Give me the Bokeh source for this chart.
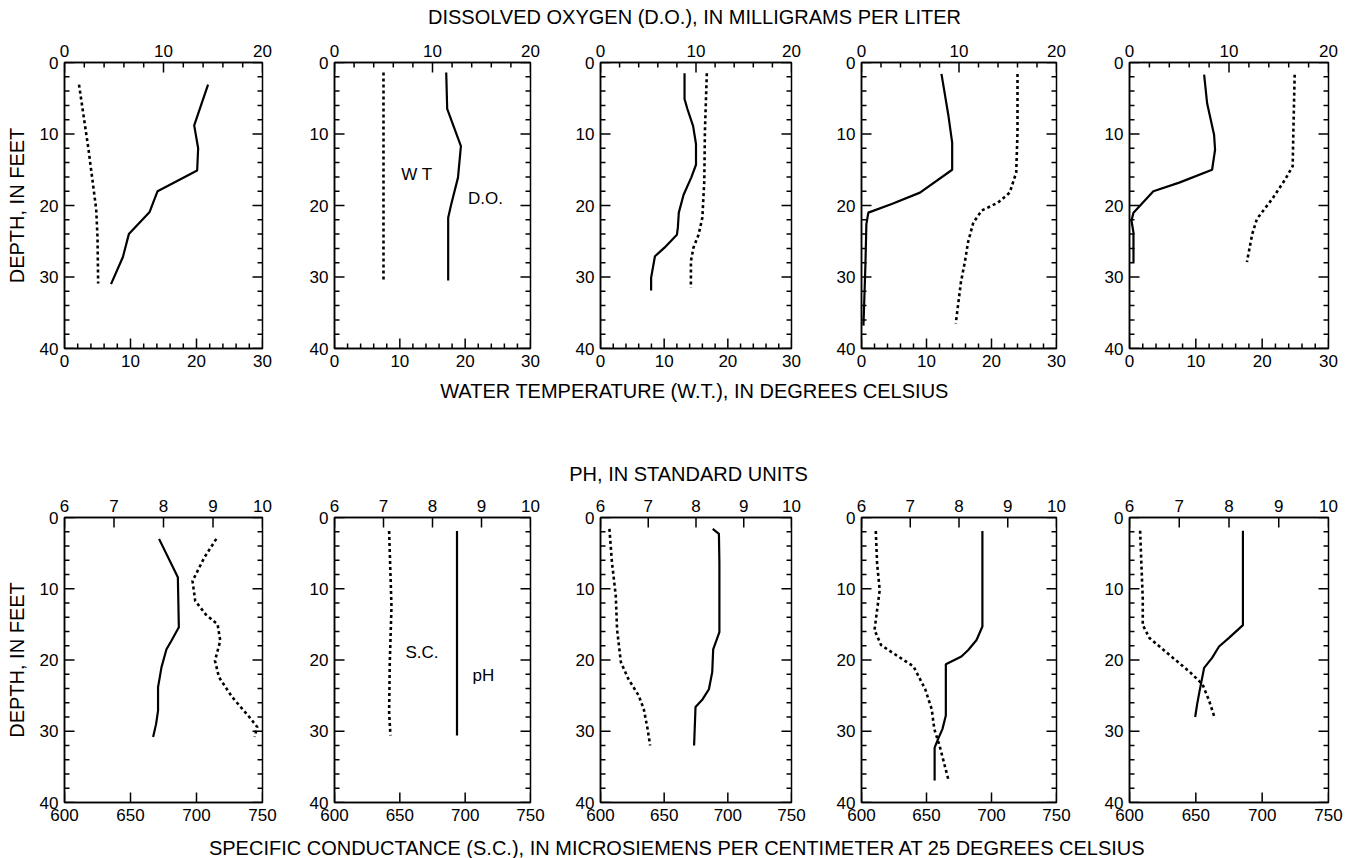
import numpy as np
from bokeh.plotting import figure
from bokeh.models import Range1d, LinearAxis, SingleIntervalTicker, Label
from bokeh.layouts import column, row
from bokeh.embed import file_html
from bokeh.resources import INLINE
from bokeh.core.validation import silence
from bokeh.core.validation.warnings import MISSING_RENDERERS

silence(MISSING_RENDERERS, True)

FONT = "Liberation Sans"

# ---------------- Titles ----------------
title_do = "DISSOLVED OXYGEN (D.O.), IN MILLIGRAMS PER LITER"
title_wt = "WATER TEMPERATURE (W.T.), IN DEGREES CELSIUS"
title_ph = "PH, IN STANDARD UNITS"
title_sc = "SPECIFIC CONDUCTANCE (S.C.), IN MICROSIEMENS PER CENTIMETER AT 25 DEGREES CELSIUS"
depth_label = "DEPTH, IN FEET"

# ---------------- Axis ranges / tick spacing ----------------
depth_range = (40, 0)
depth_major, depth_minor = 10, 2
do_range, do_major, do_minor = (0, 20), 10, 2
wt_range, wt_major, wt_minor = (0, 30), 10, 2
ph_range, ph_major = (6, 10), 1
sc_range, sc_major = (600, 750), 50

# ---------------- Top row: D.O. (top axis, mg/L) and W.T. (bottom axis, deg C) ----------------
do_depth_1 = [3.1, 8.8, 12.0, 15.1, 18.0, 20.9, 24.0, 27.2, 31.0]
do_1 = [14.5, 13.1, 13.5, 13.4, 9.4, 8.6, 6.5, 5.9, 4.7]
wt_depth_1 = [3.1, 11.9, 20.5, 24.4, 30.9]
wt_1 = [2.2, 3.6, 4.8, 5.0, 5.1]

do_depth_2 = [1.4, 6.5, 11.7, 16.1, 19.9, 21.7, 30.5]
do_2 = [11.4, 11.5, 12.9, 12.6, 11.9, 11.6, 11.6]
wt_depth_2 = [1.4, 15.0, 30.6]
wt_2 = [7.5, 7.5, 7.5]

do_depth_3 = [1.5, 5.1, 6.5, 8.9, 11.4, 14.3, 16.1, 18.5, 21.0, 23.1, 24.1, 25.9, 27.1, 30.1, 31.9]
do_3 = [8.8, 8.8, 9.1, 9.7, 10.0, 10.0, 9.5, 8.7, 8.2, 8.1, 8.0, 6.7, 5.7, 5.3, 5.3]
wt_depth_3 = [1.5, 9.6, 16.6, 21.7, 24.1, 25.9, 27.8, 31.5]
wt_3 = [16.7, 16.4, 16.3, 16.0, 15.4, 14.6, 14.2, 14.2]

do_depth_4 = [1.6, 7.3, 11.2, 15.0, 18.2, 19.8, 21.0, 22.6, 28.4, 36.8]
do_4 = [8.2, 8.9, 9.3, 9.3, 6.0, 3.1, 0.7, 0.5, 0.4, 0.2]
wt_depth_4 = [1.6, 9.8, 15.4, 18.2, 19.6, 20.7, 22.4, 25.1, 27.9, 30.7, 36.5]
wt_4 = [24.0, 24.0, 23.8, 22.8, 21.0, 18.5, 17.2, 16.4, 15.9, 15.3, 14.5]

do_depth_5 = [1.7, 5.7, 10.1, 12.2, 15.0, 16.8, 18.0, 21.0, 22.1, 23.8, 27.9]
do_5 = [7.5, 7.8, 8.5, 8.6, 8.3, 5.0, 2.4, 0.4, 0.2, 0.4, 0.4]
wt_depth_5 = [1.7, 9.8, 14.5, 16.3, 19.1, 21.9, 24.0, 27.9]
wt_5 = [24.9, 24.7, 24.6, 23.5, 21.5, 19.2, 18.5, 17.7]

# ---------------- Bottom row: pH (top axis) and S.C. (bottom axis) ----------------
ph_depth_1 = [3.0, 8.4, 15.4, 17.3, 18.5, 21.0, 23.8, 27.1, 29.0, 30.8]
ph_1 = [7.91, 8.29, 8.31, 8.16, 8.06, 7.96, 7.89, 7.89, 7.85, 7.79]
sc_depth_1 = [3.0, 5.6, 8.9, 11.7, 13.6, 15.0, 17.3, 20.1, 22.4, 25.2, 28.0, 29.4, 30.8]
sc_1 = [715, 706, 697, 699, 707, 716, 718, 714, 717, 727, 740, 746, 744]

ph_depth_2 = [1.9, 30.6]
ph_2 = [8.5, 8.5]
sc_depth_2 = [1.9, 12.5, 20.4, 27.3, 30.6]
sc_2 = [641.8, 643.6, 642.3, 641.8, 642.8]

ph_depth_3 = [1.6, 2.3, 6.3, 16.1, 18.5, 21.7, 24.1, 25.5, 26.6, 32.0]
ph_3 = [8.35, 8.48, 8.49, 8.49, 8.36, 8.34, 8.27, 8.14, 7.99, 7.96]
sc_depth_3 = [1.6, 6.3, 11.0, 15.7, 20.3, 22.7, 25.0, 26.9, 29.7, 32.0]
sc_3 = [607, 609, 612, 613, 616, 622, 630, 634, 637, 639]

ph_depth_4 = [1.9, 15.3, 17.2, 18.6, 19.5, 20.6, 27.8, 29.7, 31.1, 32.3, 36.9]
ph_4 = [8.48, 8.48, 8.36, 8.19, 8.05, 7.73, 7.73, 7.66, 7.57, 7.5, 7.5]
sc_depth_4 = [1.9, 6.5, 10.2, 13.0, 15.8, 17.9, 19.0, 20.9, 24.1, 26.9, 29.7, 32.0, 36.9]
sc_4 = [611, 612, 614, 612, 610, 615, 624, 640, 649, 654, 656, 660, 667]

ph_depth_5 = [1.85, 15.1, 16.9, 18.1, 19.7, 21.1, 24.3, 26.2, 28.0]
ph_5 = [8.28, 8.28, 8.0, 7.8, 7.66, 7.5, 7.41, 7.36, 7.32]
sc_depth_5 = [1.85, 6.7, 11.4, 15.1, 16.9, 18.8, 21.6, 23.4, 25.7, 28.0]
sc_5 = [608, 609, 610, 610, 615, 627, 645, 655, 660, 664]

top_series = [(do_depth_1, do_1, wt_depth_1, wt_1), (do_depth_2, do_2, wt_depth_2, wt_2),
              (do_depth_3, do_3, wt_depth_3, wt_3), (do_depth_4, do_4, wt_depth_4, wt_4),
              (do_depth_5, do_5, wt_depth_5, wt_5)]
bot_series = [(ph_depth_1, ph_1, sc_depth_1, sc_1), (ph_depth_2, ph_2, sc_depth_2, sc_2),
              (ph_depth_3, ph_3, sc_depth_3, sc_3), (ph_depth_4, ph_4, sc_depth_4, sc_4),
              (ph_depth_5, ph_5, sc_depth_5, sc_5)]

# ---------------- layout geometry (pixels) ----------------
fig_widths = [300, 266, 262, 266, 260]
border_left = [64, 34, 34, 33, 35]
border_right = [38, 36, 37, 38, 26]
MAJOR_LEN = 20   # marker size -> half of it shows inside the frame
MINOR_LEN = 10


def steps(lo, hi, step):
    a, b = min(lo, hi), max(lo, hi)
    return list(np.arange(a, b + step * 0.001, step))


def style_axis(ax, interval, show_labels=True):
    ax.ticker = SingleIntervalTicker(interval=interval, num_minor_ticks=0)
    ax.major_tick_in = 0
    ax.major_tick_out = 0
    ax.minor_tick_in = 0
    ax.minor_tick_out = 0
    ax.axis_line_color = "black"
    ax.axis_line_width = 1.5
    ax.major_label_text_font = FONT
    ax.major_label_text_color = "black"
    ax.major_label_standoff = 6
    if show_labels:
        ax.major_label_text_font_size = "17px"
    else:
        ax.major_label_text_font_size = "1px"
        ax.major_label_text_alpha = 0


def inward_ticks(p, positions, fixed, vertical, size, range_name=None):
    """Tick marks drawn as dash markers centred on the frame edge (outer half is clipped)."""
    if vertical:
        xs, ys, ang = positions, [fixed] * len(positions), np.pi / 2
    else:
        xs, ys, ang = [fixed] * len(positions), positions, 0.0
    kw = {}
    if range_name:
        kw["x_range_name"] = range_name
    p.scatter(x=xs, y=ys, marker="dash", size=size, angle=ang,
              line_color="black", line_width=1.5, **kw)


def make_panel(i, height, b_top, b_bottom, main_rng, main_int, main_minor,
               top_rng, top_int, top_minor, depth_ser, top_vals, main_depth, main_vals):
    p = figure(width=fig_widths[i], height=height,
               x_range=Range1d(*main_rng), y_range=Range1d(*depth_range),
               output_backend="svg", toolbar_location=None,
               min_border_left=border_left[i], min_border_right=border_right[i],
               min_border_top=b_top, min_border_bottom=b_bottom)
    p.extra_x_ranges = {"top": Range1d(*top_rng)}
    p.xgrid.visible = False
    p.ygrid.visible = False
    p.outline_line_color = "black"
    p.outline_line_width = 1.5
    p.background_fill_color = "white"
    p.border_fill_color = "white"

    style_axis(p.xaxis[0], main_int)
    style_axis(p.yaxis[0], depth_major)
    top_ax = LinearAxis(x_range_name="top")
    style_axis(top_ax, top_int)
    p.add_layout(top_ax, "above")

    if i == 0:
        p.yaxis[0].axis_label = depth_label
        p.yaxis[0].axis_label_text_font = FONT
        p.yaxis[0].axis_label_text_font_size = "20px"
        p.yaxis[0].axis_label_text_font_style = "normal"
        p.yaxis[0].axis_label_text_color = "black"
        p.yaxis[0].axis_label_standoff = 9

    # inward ticks: depth on left and right edges
    d_major = steps(*depth_range, depth_major)
    d_minor = [d for d in steps(*depth_range, depth_minor) if d not in d_major]
    for edge in main_rng:
        inward_ticks(p, d_major, edge, False, MAJOR_LEN)
        inward_ticks(p, d_minor, edge, False, MINOR_LEN)
    # bottom edge (main range)
    m_major = steps(*main_rng, main_int)
    inward_ticks(p, m_major, depth_range[0], True, MAJOR_LEN)
    if main_minor:
        m_minor = [v for v in steps(*main_rng, main_minor) if v not in m_major]
        inward_ticks(p, m_minor, depth_range[0], True, MINOR_LEN)
    # top edge (top range)
    t_major = steps(*top_rng, top_int)
    inward_ticks(p, t_major, depth_range[1], True, MAJOR_LEN, "top")
    if top_minor:
        t_minor = [v for v in steps(*top_rng, top_minor) if v not in t_major]
        inward_ticks(p, t_minor, depth_range[1], True, MINOR_LEN, "top")

    # dotted series on bottom axis
    p.line(x=main_vals, y=main_depth, line_color="black", line_width=2.6, line_dash="3 3")
    # solid series on top axis
    p.line(x=top_vals, y=depth_ser, x_range_name="top", line_color="black", line_width=2.2)
    return p


def text_fig(height):
    f = figure(width=1354, height=height, x_range=Range1d(0, 1354), y_range=Range1d(height, 0),
               x_axis_type=None, y_axis_type=None, output_backend="svg", toolbar_location=None,
               min_border=0, min_border_left=0, min_border_right=0, min_border_top=0,
               min_border_bottom=0)
    f.xgrid.visible = False
    f.ygrid.visible = False
    f.outline_line_color = None
    f.background_fill_color = "white"
    f.border_fill_color = "white"
    return f


def add_title(f, text, x, y):
    f.add_layout(Label(x=x, y=y, text=text, text_align="center", text_baseline="middle",
                       text_font=FONT, text_font_size="20px", text_color="black"))


header = text_fig(30)
add_title(header, title_do, 694, 16)

top_panels = []
for i, (dd, dv, wd, wv) in enumerate(top_series):
    top_panels.append(make_panel(i, 346, 32, 28, wt_range, wt_major, wt_minor,
                                 do_range, do_major, do_minor, dd, dv, wd, wv))

# in-panel labels (panel 2, top row)
for txt, xv, yv in [("W T", 12.6, 15.7), ("D.O.", 23.1, 19.0)]:
    top_panels[1].add_layout(Label(x=xv, y=yv, text=txt, text_align="center", text_baseline="middle",
                                   text_font=FONT, text_font_size="17px", text_color="black"))

middle = text_fig(114)
add_title(middle, title_wt, 694, 14)
add_title(middle, title_ph, 688, 97)

bot_panels = []
for i, (pd_, pv, sd, sv) in enumerate(bot_series):
    bot_panels.append(make_panel(i, 340, 27, 28, sc_range, sc_major, 0,
                                 ph_range, ph_major, 0, pd_, pv, sd, sv))

for txt, xv, yv in [("S.C.", 667, 18.9), ("pH", 714, 22.2)]:
    bot_panels[1].add_layout(Label(x=xv, y=yv, text=txt, text_align="center", text_baseline="middle",
                                   text_font=FONT, text_font_size="17px", text_color="black"))

footer = text_fig(28)
add_title(footer, title_sc, 677, 17)

layout = column(header, row(*top_panels), middle, row(*bot_panels), footer)

with open("out.html", "w") as fh:
    fh.write(file_html(layout, INLINE))
